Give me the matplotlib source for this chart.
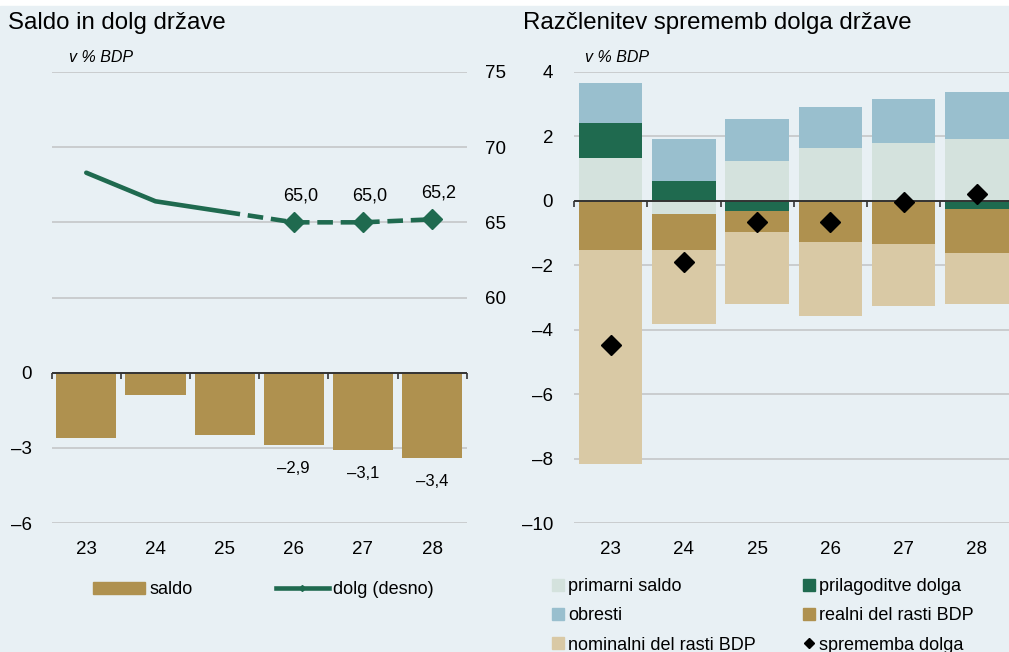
import numpy as np
import matplotlib
matplotlib.use('Agg')
import matplotlib.pyplot as plt
from matplotlib.patches import Patch, Rectangle
from matplotlib.lines import Line2D
from matplotlib.ticker import FuncFormatter

plt.rcParams['font.family'] = ['Liberation Sans', 'DejaVu Sans']

# data
years = ['23', '24', '25', '26', '27', '28']
saldo = [-2.6, -0.9, -2.5, -2.9, -3.1, -3.4]
dolg = [68.3, 66.4, 65.7, 65.0, 65.0, 65.2]
saldo_labels = {3: '–2,9', 4: '–3,1', 5: '–3,4'}
dolg_labels = {3: '65,0', 4: '65,0', 5: '65,2'}

primarni = [1.34, -0.41, 1.24, 1.65, 1.79, 1.92]
prilagoditve = [1.07, 0.62, -0.30, -0.05, 0.0, -0.25]
obresti = [1.24, 1.29, 1.29, 1.26, 1.36, 1.45]
realni = [-1.52, -1.11, -0.66, -1.22, -1.33, -1.37]
nominalni = [-6.64, -2.31, -2.23, -2.31, -1.92, -1.57]
sprememba = [-4.49, -1.90, -0.66, -0.67, -0.05, 0.21]

# colours
bg = '#E8F0F4'
brown = '#AF914F'
green = '#1F6A4F'
blue = '#99BFCE'
pale = '#D4E2DD'
sand = '#D9C9A5'
grid_c = '#C4C6C8'
zero_c = '#333333'

W, H = 1009, 652
fig = plt.figure(figsize=(W / 100, H / 100), dpi=100, facecolor='white')
fig.patches.append(Rectangle((0, 0), 1, 646 / H, transform=fig.transFigure,
                             color=bg, zorder=-10))

def dash(v, pos=None):
    return ('%g' % v).replace('-', '–')

x = np.arange(len(years))
bottom_f = 1 - 523 / H
height_f = (523 - 72) / H

# ---------------- left chart: saldo in dolg
ax1 = fig.add_axes([51.7 / W, bottom_f, 415 / W, height_f])
ax1.set_facecolor('none')
ax1.bar(x, saldo, width=0.87, color=brown, zorder=2)
ax1.set_xlim(-0.5, 5.5)
ax1.set_ylim(-6, 12)
ax1.set_yticks([-6, -3, 0, 3, 6, 9, 12])
ax1.set_yticklabels(['–6', '–3', '0', '', '', '', ''])
ax1.grid(axis='y', color=grid_c, lw=1.2, zorder=0)
ax1.axhline(0, color=zero_c, lw=1.4, zorder=3)
ax1.plot(np.arange(len(years) + 1) - 0.5, np.zeros(len(years) + 1), ls='none',
         marker=3, ms=4, mew=1.2, color=zero_c, zorder=3, clip_on=False)
ax1.set_xticks(x)
ax1.set_xticklabels(years)
ax1.tick_params(axis='both', length=0, labelsize=13.5)
ax1.tick_params(axis='x', pad=13)
ax1.tick_params(axis='y', pad=14.5)
for i, t in saldo_labels.items():
    ax1.annotate(t, (x[i], saldo[i]), xytext=(0, -17), textcoords='offset points',
                 ha='center', va='center', fontsize=12)
for s in ax1.spines.values():
    s.set_visible(False)

ax2 = ax1.twinx()
ax2.set_ylim(45, 75)
ax2.set_yticks([60, 65, 70, 75])
ax2.tick_params(axis='y', length=0, labelsize=13.5, pad=13)
ax2.plot(x[:3], dolg[:3], color=green, lw=3.3, solid_capstyle='round', zorder=4)
ax2.plot(x[2:], dolg[2:], color=green, lw=3.3, dashes=(3.4, 1.7), zorder=4)
ax2.plot(x[3:], dolg[3:], ls='none', marker='D', ms=10, color=green, zorder=5)
for i, t in dolg_labels.items():
    ax2.annotate(t, (x[i], dolg[i]), xytext=(5, 19), textcoords='offset points',
                 ha='center', va='center', fontsize=13)
for s in ax2.spines.values():
    s.set_visible(False)

h_saldo = Patch(color=brown)
h_dolg = Line2D([], [], color=green, lw=3.3, marker='D', ms=3)
fig.legend([h_saldo, h_dolg], ['saldo', 'dolg (desno)'], ncol=2, frameon=False,
           loc='center left', bbox_to_anchor=(93 / W, 1 - 590 / H), fontsize=13,
           handlelength=2.9, handleheight=0.65, handletextpad=0.25,
           columnspacing=4.6, borderpad=0, borderaxespad=0)

# ---------------- right chart: razclenitev
ax3 = fig.add_axes([574 / W, bottom_f, 439.5 / W, height_f])
ax3.set_facecolor('none')
series = [(primarni, pale, 'primarni saldo'),
          (prilagoditve, green, 'prilagoditve dolga'),
          (obresti, blue, 'obresti'),
          (realni, brown, 'realni del rasti BDP'),
          (nominalni, sand, 'nominalni del rasti BDP')]
pos_b = np.zeros(len(years))
neg_b = np.zeros(len(years))
handles = {}
for vals, col, lab in series:
    v = np.array(vals)
    b = np.where(v >= 0, pos_b, neg_b)
    ax3.bar(x, v, width=0.87, bottom=b, color=col, zorder=2)
    pos_b += np.clip(v, 0, None)
    neg_b += np.clip(v, None, 0)
    handles[lab] = Patch(color=col)
ax3.plot(x, sprememba, ls='none', marker='D', ms=10, color='black', zorder=5)
ax3.set_xlim(-0.5, 5.5)
ax3.set_ylim(-10, 4)
ax3.set_yticks(np.arange(-10, 5, 2))
ax3.yaxis.set_major_formatter(FuncFormatter(dash))
ax3.grid(axis='y', color=grid_c, lw=1.2, zorder=0)
ax3.axhline(0, color=zero_c, lw=1.4, zorder=3)
ax3.plot(np.arange(len(years) + 1) - 0.5, np.zeros(len(years) + 1), ls='none',
         marker=3, ms=4, mew=1.2, color=zero_c, zorder=3, clip_on=False)
ax3.set_xticks(x)
ax3.set_xticklabels(years)
ax3.tick_params(axis='both', length=0, labelsize=13.5)
ax3.tick_params(axis='x', pad=13)
ax3.tick_params(axis='y', pad=15)
for s in ax3.spines.values():
    s.set_visible(False)

h_spr = Line2D([], [], ls='none', marker='D', ms=5, color='black')
order = ['primarni saldo', 'obresti', 'nominalni del rasti BDP',
         'prilagoditve dolga', 'realni del rasti BDP']
hl = [handles[k] for k in order] + [h_spr]
ll = order + ['sprememba dolga']
fig.legend(hl, ll, ncol=2, frameon=False, loc='upper left',
           bbox_to_anchor=(552 / W, 1 - 578 / H), fontsize=13,
           handlelength=0.65, handleheight=0.65, handletextpad=0.25,
           columnspacing=2.6, labelspacing=0.68, borderpad=0, borderaxespad=0)

# titles and units
fig.text(8 / W, 1 - 29 / H, 'Saldo in dolg države', fontsize=17.3, va='baseline')
fig.text(523 / W, 1 - 29 / H, 'Razčlenitev sprememb dolga države', fontsize=17.3,
         va='baseline')
fig.text(69 / W, 1 - 57 / H, 'v % BDP', fontsize=11.5, style='italic', va='center')
fig.text(585 / W, 1 - 57 / H, 'v % BDP', fontsize=11.5, style='italic', va='center')

fig.savefig('out.png', dpi=100, facecolor='white')
